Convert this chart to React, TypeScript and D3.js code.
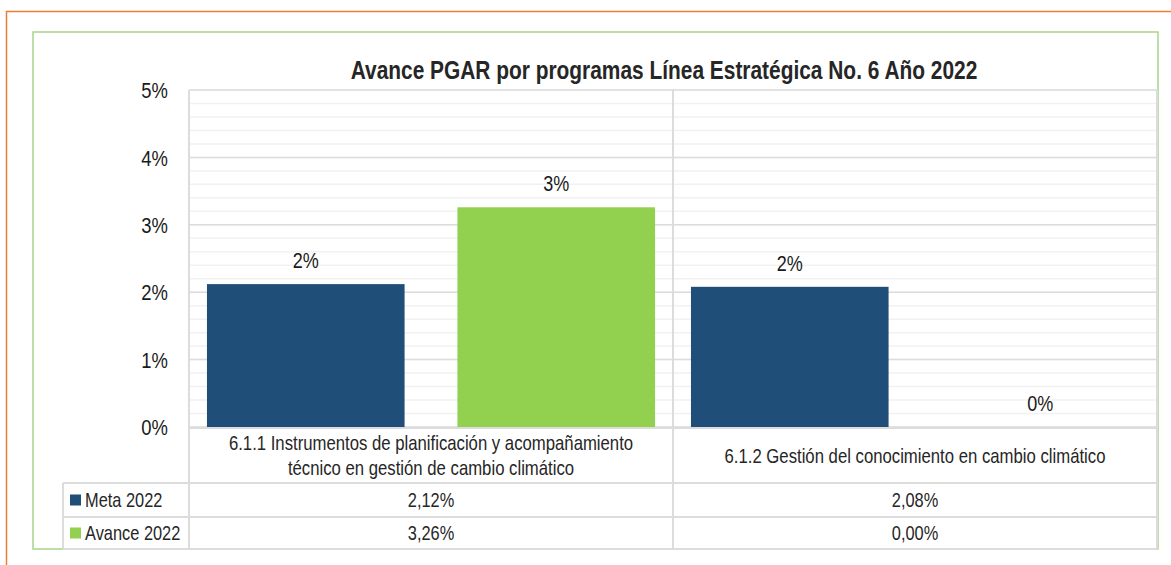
import React from "react";
import * as d3 from "d3";

const categories = [
  ["6.1.1 Instrumentos de planificación y acompañamiento", "técnico en gestión de cambio climático"],
  ["6.1.2 Gestión del conocimiento en cambio climático"],
];
const seriesNames = ["Meta 2022", "Avance 2022"];
const meta = [0.0212, 0.0208];
const avance = [0.0326, 0.0];
const yTicks = [0, 0.01, 0.02, 0.03, 0.04, 0.05];

const colors = ["#1f4e79", "#92d050"];
const FONT = "'Liberation Sans', Arial, sans-serif";
// no Arial Narrow available: squeeze Liberation Sans horizontally
const NARROW = 0.82;

const locale = d3.formatLocale({ decimal: ",", thousands: ".", grouping: [3], currency: ["$", ""] });
const tableFmt = locale.format(".2%");
const labelFmt = d3.format(".0%");
const tickFmt = d3.format(".0%");

const NText = ({ x, y, children, ...rest }: any) => (
  <g transform={`translate(${x},${y}) scale(${NARROW},1)`}>
    <text x={0} y={0} {...rest}>
      {children}
    </text>
  </g>
);

const App = () => {
  const width = 1171;
  const height = 565;
  const left = 189;
  const right = 1157;
  const top = 90;
  const bottom = 427;

  const values = [meta, avance];
  const x = d3.scaleBand<number>().domain(d3.range(categories.length)).range([left, right]);
  const xs = d3
    .scaleBand<number>()
    .domain(d3.range(seriesNames.length))
    .range([0, x.bandwidth()])
    .paddingInner(0.211)
    .paddingOuter(0.0717);
  const y = d3.scaleLinear().domain([0, 0.05]).range([bottom, top]);
  const minor = d3.range(0, 0.0501, 0.002);

  const axisY = 428;
  const rowCat = 483;
  const rowMeta = 517;
  const rowEnd = 549;
  const legLeft = 63;
  const grid = "#dcdcdc";

  return (
    <svg width={width} height={height} style={{ position: "absolute", left: 0, top: 0 }} fontFamily={FONT}>
      <rect width={width} height={height} fill="#fff" />
      {/* outer frames */}
      <path d={`M6.5,${height} V11.5 H${width}`} fill="none" stroke="#ed7d31" strokeWidth={1.5} />
      <rect x={33} y={32} width={1125} height={517} fill="none" stroke="#a9d38c" strokeWidth={1.5} />

      <NText x={664} y={79} textAnchor="middle" fontSize={25.5} fontWeight="bold" fill="#262626">
        Avance PGAR por programas Línea Estratégica No. 6 Año 2022
      </NText>

      {/* grid */}
      {minor.map((t, i) => (
        <line key={"m" + i} x1={left} x2={right} y1={y(t)} y2={y(t)} stroke="#f1f1f1" strokeWidth={1.5} />
      ))}
      {yTicks.map((t) => (
        <line key={"g" + t} x1={left} x2={right} y1={y(t)} y2={y(t)} stroke={grid} strokeWidth={1.5} />
      ))}
      {yTicks.map((t) => (
        <NText key={"t" + t} x={168} y={y(t)} dy="0.36em" textAnchor="end" fontSize={22.5} fill="#1a1a1a">
          {tickFmt(t)}
        </NText>
      ))}

      {/* bars */}
      {categories.map((c, ci) =>
        seriesNames.map((s, si) => {
          const v = values[si][ci];
          const bx = (x(ci) as number) + (xs(si) as number);
          return (
            <g key={ci + "-" + si}>
              <rect x={bx} y={y(v)} width={xs.bandwidth()} height={bottom - y(v)} fill={colors[si]} />
              <NText x={bx + xs.bandwidth() / 2} y={y(v) - 16} textAnchor="middle" fontSize={22} fill="#1a1a1a">
                {labelFmt(v)}
              </NText>
            </g>
          );
        })
      )}

      {/* data table */}
      <g stroke={grid} strokeWidth={2} fill="none">
        <line x1={left} x2={right} y1={axisY} y2={axisY} />
        <line x1={legLeft} x2={right} y1={rowCat} y2={rowCat} />
        <line x1={legLeft} x2={right} y1={rowMeta} y2={rowMeta} />
        <line x1={legLeft} x2={right} y1={rowEnd} y2={rowEnd} />
        <line x1={legLeft} x2={legLeft} y1={rowCat} y2={rowEnd} />
        <line x1={left} x2={left} y1={top} y2={rowEnd} />
        <line x1={right} x2={right} y1={top} y2={rowEnd} />
        {categories.slice(1).map((c, i) => (
          <line key={i} x1={x(i + 1)} x2={x(i + 1)} y1={top} y2={rowEnd} />
        ))}
      </g>
      {categories.map((lines, ci) => {
        const cx = (x(ci) as number) + x.bandwidth() / 2;
        const mid = (axisY + rowCat) / 2;
        return lines.map((l, li) => (
          <NText
            key={"c" + ci + li}
            x={cx}
            y={mid + (li - (lines.length - 1) / 2) * 25}
            dy="0.36em"
            textAnchor="middle"
            fontSize={20.4}
            fill="#262626"
          >
            {l}
          </NText>
        ));
      })}
      {seriesNames.map((s, si) => {
        const ry = si === 0 ? (rowCat + rowMeta) / 2 : (rowMeta + rowEnd) / 2;
        return (
          <g key={"r" + s}>
            <rect x={70} y={ry - 5.5} width={11} height={11} fill={colors[si]} />
            <NText x={85} y={ry} dy="0.36em" fontSize={20} fill="#262626">
              {s}
            </NText>
            {categories.map((c, ci) => (
              <NText
                key={ci}
                x={(x(ci) as number) + x.bandwidth() / 2}
                y={ry}
                dy="0.36em"
                textAnchor="middle"
                fontSize={20}
                fill="#262626"
              >
                {tableFmt(values[si][ci])}
              </NText>
            ))}
          </g>
        );
      })}
    </svg>
  );
};

export default App;
